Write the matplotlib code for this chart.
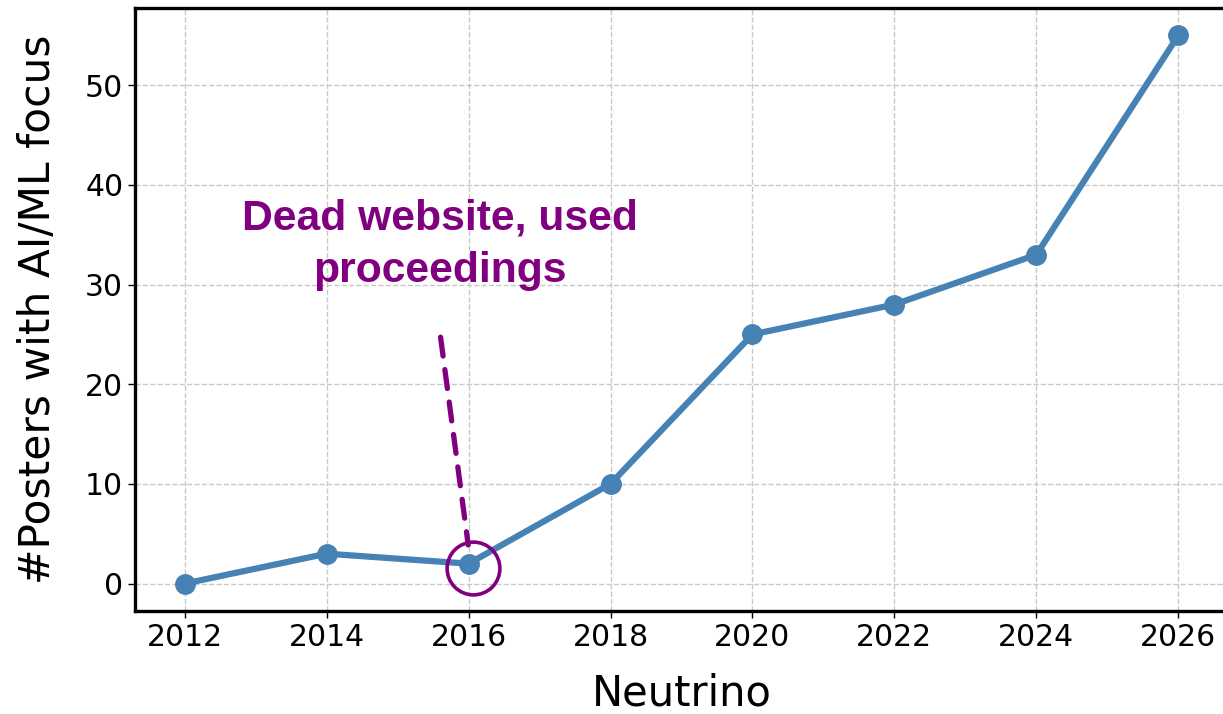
import matplotlib
matplotlib.use("Agg")
from matplotlib import pyplot as plt
from matplotlib.transforms import ScaledTranslation

years = [2012, 2014, 2016, 2018, 2020, 2022, 2024, 2026]
posters = [0, 3, 2, 10, 25, 28, 33, 55]
note_year = 2016
note_text = 'Dead website, used\nproceedings'

fig = plt.figure(figsize=(12.23, 7.14), dpi=100)
ax = fig.add_axes([135 / 1223, 1 - 611 / 714, (1228 - 135) / 1223, (611 - 8) / 714])

ax.plot(years, posters, color='#4682B4', linewidth=4.5, marker='o',
        markersize=14, zorder=3)

ax.set_xticks(years)
ax.set_yticks([0, 10, 20, 30, 40, 50])
ax.tick_params(labelsize=21.5, length=5, width=1)
ax.grid(True, linestyle='--', color='#c8c8c8', linewidth=1)
ax.set_axisbelow(True)

for side in ['top', 'left', 'bottom']:
    ax.spines[side].set_linewidth(2.4)
ax.spines['right'].set_visible(False)

ax.set_xlabel('Neutrino', fontsize=30, labelpad=15)
ax.set_ylabel('#Posters with AI/ML focus', fontsize=30.5, labelpad=19)

# circle the 2016 point and point a dashed line at it from the note
i = years.index(note_year)
shift = ScaledTranslation(4 / 100, -4 / 100, fig.dpi_scale_trans)
ax.plot([note_year], [posters[i]], marker='o', markersize=38,
        markerfacecolor='none', markeredgecolor='#800080',
        markeredgewidth=2.6, transform=ax.transData + shift, zorder=4)
ax.annotate('', xy=(note_year, posters[i] + 1.6), xytext=(note_year - 0.4, 25),
            arrowprops=dict(arrowstyle='-', color='#800080', linewidth=3.8,
                            linestyle=(0, (3.6, 2.6)), capstyle='round'))
ax.text(note_year - 0.4, 34.0, note_text, color='#800080', fontsize=30.7,
        fontweight='bold', family='Liberation Sans', ha='center', va='center',
        linespacing=1.4)

fig.savefig('out.png', dpi=100)
